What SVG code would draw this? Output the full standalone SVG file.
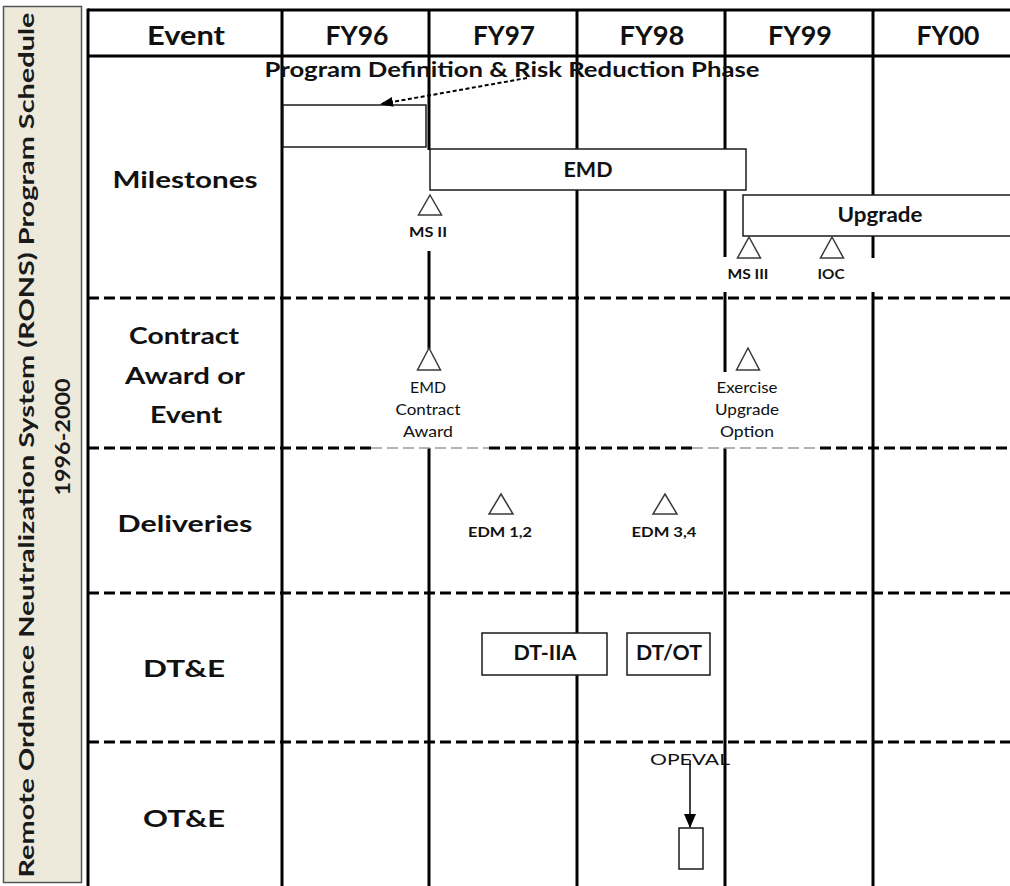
<svg xmlns="http://www.w3.org/2000/svg" width="1010" height="886" viewBox="0 0 1010 886">
<style>
.g{stroke:#000;stroke-width:3;fill:none}
.d{stroke:#000;stroke-width:3;stroke-dasharray:11 5;fill:none}
.dg{stroke:#9a9a9a;stroke-width:1.5;stroke-dasharray:11 5;fill:none}
.box{fill:#fff;stroke:#1a1a1a;stroke-width:1.5}
.tri{fill:#fff;stroke:#3a3a3a;stroke-width:1.5}
.hd{font-family:Lato,"Open Sans",sans-serif;font-weight:bold;font-size:26px;fill:#111;text-anchor:middle}
.rl{font-family:Lato,"Open Sans",sans-serif;font-weight:bold;font-size:23px;fill:#111;text-anchor:middle}
.bl{font-family:Lato,"Open Sans",sans-serif;font-weight:bold;font-size:20px;fill:#111;text-anchor:middle}
.sm{font-family:Lato,"Open Sans",sans-serif;font-weight:bold;font-size:14px;fill:#111;text-anchor:middle}
.rg{font-family:Lato,"Open Sans",sans-serif;font-weight:normal;font-size:15px;fill:#111;text-anchor:middle}
.tt{font-family:Lato,"Open Sans",sans-serif;font-weight:bold;font-size:21px;fill:#1a1a1a;text-anchor:middle}
</style>
<defs>
<marker id="ah" markerWidth="13" markerHeight="10" refX="12" refY="5" orient="auto" markerUnits="userSpaceOnUse">
<path d="M0,0 L13,5 L0,10 Z" fill="#000"/>
</marker>
<marker id="ah2" markerWidth="14" markerHeight="12" refX="13" refY="6" orient="auto" markerUnits="userSpaceOnUse">
<path d="M0,0 L14,6 L0,12 Z" fill="#000"/>
</marker>
</defs>
<rect width="1010" height="886" fill="#fff"/>

<g id="title">
<rect x="3.5" y="6.5" width="78" height="876" fill="#EEEADB" stroke="#555" stroke-width="1.5"/>
<text class="tt" transform="translate(34,445) rotate(-90)" textLength="865" lengthAdjust="spacingAndGlyphs">Remote Ordnance Neutralization System (RONS) Program Schedule</text>
<text class="tt" transform="translate(70,437) rotate(-90)" textLength="117" lengthAdjust="spacingAndGlyphs">1996-2000</text>
</g>

<g id="grid">
<line class="g" x1="88" y1="10" x2="1010" y2="10"/>
<line class="g" x1="88" y1="56" x2="1010" y2="56"/>
<line class="g" x1="88" y1="8.5" x2="88" y2="886"/>
<line class="g" x1="282" y1="10" x2="282" y2="886"/>
<line class="g" x1="429" y1="10" x2="429" y2="150"/>
<line class="g" x1="429" y1="251" x2="429" y2="349"/>
<line class="g" x1="429" y1="448" x2="429" y2="886"/>
<line class="g" x1="577" y1="10" x2="577" y2="150"/>
<line class="g" x1="577" y1="190" x2="577" y2="634"/>
<line class="g" x1="577" y1="675" x2="577" y2="886"/>
<line class="g" x1="725" y1="10" x2="725" y2="150"/>
<line class="g" x1="725" y1="190" x2="725" y2="257"/>
<line class="g" x1="725" y1="292" x2="725" y2="372"/>
<line class="g" x1="725" y1="448" x2="725" y2="886"/>
<line class="g" x1="873" y1="10" x2="873" y2="196"/>
<line class="g" x1="873" y1="236" x2="873" y2="258"/>
<line class="g" x1="873" y1="292" x2="873" y2="886"/>
<line class="d" x1="88" y1="298" x2="1010" y2="298"/>
<line class="d" x1="88" y1="448" x2="371" y2="448"/>
<line class="dg" x1="371" y1="448" x2="489" y2="448"/>
<line class="d" x1="489" y1="448" x2="692" y2="448"/>
<line class="dg" x1="692" y1="448" x2="820" y2="448"/>
<line class="d" x1="820" y1="448" x2="1010" y2="448"/>
<line class="d" x1="88" y1="593" x2="1010" y2="593"/>
<line class="d" x1="88" y1="742" x2="1010" y2="742"/>
</g>

<g id="header">
<text class="hd" x="186" y="45" textLength="78" lengthAdjust="spacingAndGlyphs">Event</text>
<text class="hd" x="357" y="45" textLength="63" lengthAdjust="spacingAndGlyphs">FY96</text>
<text class="hd" x="504" y="45" textLength="62" lengthAdjust="spacingAndGlyphs">FY97</text>
<text class="hd" x="652" y="45" textLength="65" lengthAdjust="spacingAndGlyphs">FY98</text>
<text class="hd" x="800" y="45" textLength="64" lengthAdjust="spacingAndGlyphs">FY99</text>
<text class="hd" x="948" y="45" textLength="63" lengthAdjust="spacingAndGlyphs">FY00</text>
</g>

<g id="row-labels">
<text class="rl" x="185" y="188" textLength="145" lengthAdjust="spacingAndGlyphs">Milestones</text>
<text class="rl" x="184" y="344" textLength="110" lengthAdjust="spacingAndGlyphs">Contract</text>
<text class="rl" x="185" y="384" textLength="120" lengthAdjust="spacingAndGlyphs">Award or</text>
<text class="rl" x="186" y="423" textLength="72" lengthAdjust="spacingAndGlyphs">Event</text>
<text class="rl" x="185" y="532" textLength="135" lengthAdjust="spacingAndGlyphs">Deliveries</text>
<text class="rl" x="184" y="677" textLength="82" lengthAdjust="spacingAndGlyphs">DT&amp;E</text>
<text class="rl" x="184" y="827" textLength="82" lengthAdjust="spacingAndGlyphs">OT&amp;E</text>
</g>

<g id="phase-label">
<text class="bl" x="512" y="77" font-size="19" textLength="495" lengthAdjust="spacingAndGlyphs">Program Definition &amp; Risk Reduction Phase</text>
</g>

<g id="pdrr-box"><rect class="box" x="283" y="105" width="143" height="42"/></g>
<g id="emd-box"><rect class="box" x="430" y="149" width="316" height="41"/>
<text class="bl" x="588" y="177" textLength="49" lengthAdjust="spacingAndGlyphs">EMD</text></g>
<g id="upgrade-box"><rect class="box" x="743" y="195" width="280" height="41"/>
<text class="bl" x="880" y="222" textLength="85" lengthAdjust="spacingAndGlyphs">Upgrade</text></g>

<g id="ms2"><path class="tri" d="M430,195 L441.5,215 L418.5,215 Z"/>
<text class="sm" x="428" y="237" textLength="38" lengthAdjust="spacingAndGlyphs">MS II</text></g>
<g id="ms3"><path class="tri" d="M749,237 L760.5,258 L737.5,258 Z"/>
<text class="sm" x="748" y="279" textLength="41" lengthAdjust="spacingAndGlyphs">MS III</text></g>
<g id="ioc"><path class="tri" d="M832,237 L843.5,258 L820.5,258 Z"/>
<text class="sm" x="831" y="279" textLength="27" lengthAdjust="spacingAndGlyphs">IOC</text></g>

<g id="emd-contract"><path class="tri" d="M429,348 L440.5,370 L417.5,370 Z"/>
<text class="rg" x="428" y="393" textLength="36" lengthAdjust="spacingAndGlyphs">EMD</text>
<text class="rg" x="428" y="415" textLength="65" lengthAdjust="spacingAndGlyphs">Contract</text>
<text class="rg" x="428" y="437" textLength="50" lengthAdjust="spacingAndGlyphs">Award</text></g>
<g id="upgrade-option"><path class="tri" d="M748,348 L759.5,370 L736.5,370 Z"/>
<text class="rg" x="747" y="393" textLength="61" lengthAdjust="spacingAndGlyphs">Exercise</text>
<text class="rg" x="747" y="415" textLength="64" lengthAdjust="spacingAndGlyphs">Upgrade</text>
<text class="rg" x="747" y="437" textLength="54" lengthAdjust="spacingAndGlyphs">Option</text></g>

<g id="edm12"><path class="tri" d="M501,494 L513,514 L489,514 Z"/>
<text class="sm" x="500" y="537" textLength="64" lengthAdjust="spacingAndGlyphs">EDM 1,2</text></g>
<g id="edm34"><path class="tri" d="M665,494 L677,514 L653,514 Z"/>
<text class="sm" x="664" y="537" textLength="65" lengthAdjust="spacingAndGlyphs">EDM 3,4</text></g>

<g id="dt-iia"><rect class="box" x="482" y="633" width="125" height="42"/>
<text class="bl" x="545" y="660" textLength="63" lengthAdjust="spacingAndGlyphs">DT-IIA</text></g>
<g id="dt-ot"><rect class="box" x="627" y="633" width="83" height="42"/>
<text class="bl" x="669" y="660" textLength="66" lengthAdjust="spacingAndGlyphs">DT/OT</text></g>

<g id="opeval"><text class="rg" x="690" y="765" font-size="18" fill="#333" textLength="80" lengthAdjust="spacingAndGlyphs">OPEVAL</text>
<rect class="box" x="679" y="828" width="24" height="41"/></g>

<g id="connectors">
<line x1="527" y1="78" x2="381" y2="104" stroke="#000" stroke-width="2" stroke-dasharray="4 2.5" marker-end="url(#ah)"/>
<line x1="690" y1="760" x2="690" y2="827" stroke="#000" stroke-width="1.5" marker-end="url(#ah2)"/>
</g>
</svg>
